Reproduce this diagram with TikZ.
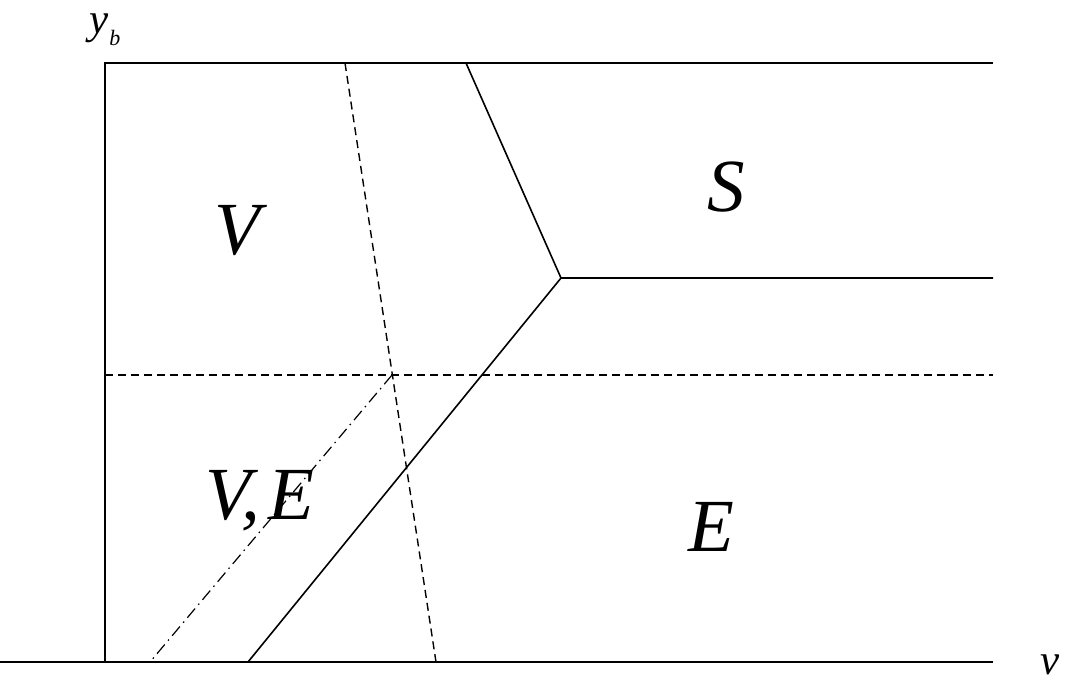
\documentclass[tikz,border=0pt]{standalone}
\usepackage{fontspec}
\setmainfont{Liberation Serif}
\begin{document}
\begin{tikzpicture}[x=1pt,y=-1pt,
  ln/.style={line width=1.6pt},
  dsh/.style={line width=1.4pt,dash pattern=on 8pt off 5pt},
  dd/.style={line width=1.2pt,dash pattern=on 12pt off 5pt on 1.5pt off 5pt},
  big/.style={font=\fontsize{75}{80}\selectfont\itshape,inner sep=0pt},
  mid/.style={font=\fontsize{43}{46}\selectfont\itshape,inner sep=0pt}]
\useasboundingbox (0,0) rectangle (1067,681);
\coordinate (o) at (105,662);
\coordinate (ax0) at (0,662);
\coordinate (ax1) at (993,662);
\coordinate (tl) at (105,63);
\coordinate (tr) at (993,63);
\coordinate (t1) at (466,63);
\coordinate (tp) at (561,278);
\coordinate (r1) at (993,278);
\coordinate (b1) at (248,662);
\coordinate (dl) at (105,375);
\coordinate (dr) at (993,375);
\coordinate (dt) at (345,63);
\coordinate (db) at (436,662);
\coordinate (ci) at (392,375);
\coordinate (cb) at (150,662);
\draw[ln] (ax0) -- (ax1);
\draw[ln] (o) -- (tl) -- (tr);
\draw[ln] (t1) -- (tp) -- (r1);
\draw[ln] (tp) -- (b1);
\draw[dsh] (dl) -- (dr);
\draw[dsh] (dt) -- (db);
\draw[dd] (ci) -- (cb);
\node[mid,anchor=base west] (yb) at (89,33) {y\kern1pt{\fontsize{22}{24}\selectfont\raisebox{-12pt}{b}}};
\node[mid,anchor=base west] (vv) at (1040,674) {v};
\node[big,anchor=base] (V) at (237,254) {V};
\node[big,anchor=base] (S) at (726,211) {S};
\node[big,anchor=base west] (VE) at (205,519) {V,\kern8pt E};
\node[big,anchor=base] (E) at (711,551) {E};
\end{tikzpicture}
\end{document}
